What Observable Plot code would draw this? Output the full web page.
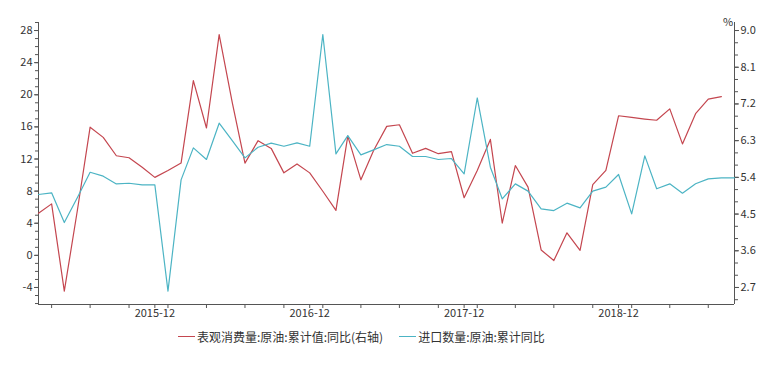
<!DOCTYPE html>
<html><head><meta charset="utf-8">
<script src="https://cdn.jsdelivr.net/npm/d3@7"></script>
<script src="https://cdn.jsdelivr.net/npm/@observablehq/plot@0.6"></script>
<style>
body{margin:0;background:#fff;font-family:"Noto Sans CJK SC",sans-serif;}
#chart{position:relative;width:781px;height:365px;overflow:hidden;}
#pct{position:absolute;left:723px;top:13px;font-size:11px;color:#333;}
.legend{position:absolute;top:328px;left:178px;font-size:12px;color:#333;display:flex;align-items:center;white-space:nowrap;}
.sw{display:inline-block;width:17px;height:0;border-top:1.2px solid;margin-right:2px;}
.item{display:flex;align-items:center;margin-right:16px;}
</style></head><body>
<div id="chart"><span id="pct">%</span></div>
<script>
// Monthly data starting 2015-03
const startMonth = "2015-03-01";
// 进口数量:原油:累计同比 (left axis, %), 2015-03 .. 2019-09
const importYoY = [7.58, 7.79, 4.09, 7.2, 10.35, 9.86, 8.9, 8.98, 8.78, 8.78,
  -4.46, 9.4, 13.39, 11.94, 16.46, 14.3, 12.14, 13.47, 13.97, 13.59,
  14.0, 13.59, 27.5, 12.64, 14.92, 12.52, 13.14, 13.8, 13.59, 12.31,
  12.31, 11.94, 12.06, 10.15, 19.6, 10.98, 7.04, 8.9, 8.0, 5.8,
  5.58, 6.5, 5.92, 8.0, 8.49, 10.07, 5.17, 12.39, 8.29, 8.91,
  7.74, 8.91, 9.53, 9.66, 9.66];
// 表观消费量:原油:累计值:同比 (right axis, %), 2015-03 .. 2019-08
const consumptionYoY = [4.52, 4.75, 2.61, 4.6, 6.63, 6.38, 5.93, 5.88, 5.65, 5.40,
  5.57, 5.75, 7.77, 6.61, 8.90, 7.23, 5.75, 6.30, 6.11, 5.51,
  5.73, 5.51, 5.06, 4.59, 6.41, 5.34, 6.06, 6.65, 6.69, 5.99,
  6.11, 5.98, 6.03, 4.90, 5.57, 6.33, 4.28, 5.69, 5.16, 3.62,
  3.36, 4.04, 3.61, 5.22, 5.57, 6.91, 6.87, 6.83, 6.80, 7.08,
  6.22, 6.96, 7.32, 7.38];
const leftTicks = [-4, 0, 4, 8, 12, 16, 20, 24, 28];
const rightTicks = [2.7, 3.6, 4.5, 5.4, 6.3, 7.2, 8.1, 9.0];
const xTickLabels = ["2015-12", "2016-12", "2017-12", "2018-12"];
const seriesNames = ["表观消费量:原油:累计值:同比(右轴)", "进口数量:原油:累计同比"];
const colors = ["#c4464f", "#4cb4c4"];

// right axis value -> left axis units (2.7↔-4, 9.0↔28)
const toLeft = r => (r - 2.7) / (6.3 / 32) - 4;
const fromLeft = v => (v + 4) * (6.3 / 32) + 2.7;

const t0 = new Date(startMonth + "T00:00:00Z");
const monthAt = i => d3.utcMonth.offset(t0, i);
const xEnd = monthAt(54);
const yMin = -6.12, yMax = 29;
const xMajor = xTickLabels.map(s => new Date(s + "-01T00:00:00Z"));
const xMinor = d3.utcMonth.every(3).range(t0, d3.utcMonth.offset(xEnd, 1));
const axisColor = "#555";

const plot = Plot.plot({
  width: 781, height: 320,
  marginLeft: 38, marginRight: 47, marginTop: 22, marginBottom: 16,
  style: {fontFamily: '"Noto Sans CJK SC", sans-serif', fontSize: "11px", color: "#333", background: "#fff"},
  x: {type: "utc", domain: [t0, xEnd]},
  y: {domain: [yMin, yMax]},
  marks: [
    Plot.axisY({anchor: "left", ticks: leftTicks, tickSize: 4, tickPadding: 2, label: null, tickFormat: d => String(d), stroke: axisColor}),
    Plot.axisY({anchor: "left", ticks: d3.range(-6, 30), tickSize: 3, text: null, label: null, stroke: axisColor}),
    Plot.axisY({anchor: "right", ticks: rightTicks.map(toLeft), tickSize: 4, tickPadding: 2, label: null, tickFormat: d => fromLeft(d).toFixed(1), stroke: axisColor}),
    Plot.axisY({anchor: "right", ticks: d3.range(2.4, 9.2, 0.3).map(toLeft), tickSize: 3, text: null, label: null, stroke: axisColor}),
    Plot.axisX({ticks: xMajor, tickSize: 4, tickPadding: 1, tickFormat: d3.utcFormat("%Y-%m"), label: null, stroke: axisColor}),
    Plot.axisX({ticks: xMinor, tickSize: 4, text: null, label: null, stroke: axisColor}),
    Plot.ruleY([yMin], {stroke: axisColor}),
    Plot.ruleX([t0, xEnd], {stroke: axisColor}),
    Plot.lineY(consumptionYoY, {x: (d, i) => monthAt(i), y: d => toLeft(d), stroke: colors[0], strokeWidth: 1.2}),
    Plot.lineY(importYoY, {x: (d, i) => monthAt(i), y: d => d, stroke: colors[1], strokeWidth: 1.2})
  ]
});
const chart = document.getElementById("chart");
chart.appendChild(plot);

const legend = document.createElement("div");
legend.className = "legend";
seriesNames.forEach((n, i) => {
  const it = document.createElement("span");
  it.className = "item";
  it.innerHTML = `<span class="sw" style="border-color:${colors[i]}"></span><span>${n}</span>`;
  legend.appendChild(it);
});
chart.appendChild(legend);
</script>
</body></html>
